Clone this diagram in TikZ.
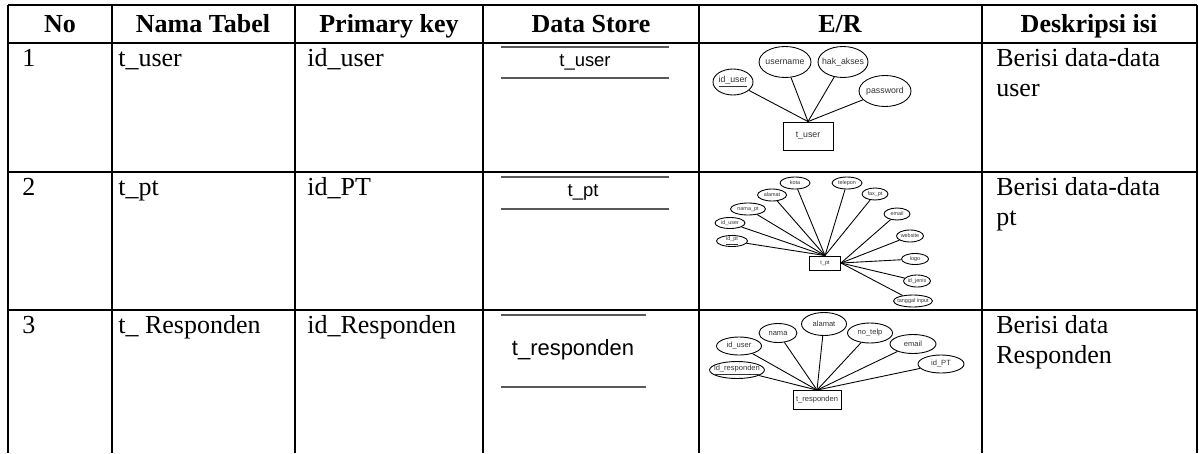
\documentclass[tikz,border=0pt]{standalone}
\usepackage{fontspec}
\setmainfont{Liberation Serif}
\setsansfont{Liberation Sans}
\usetikzlibrary{shapes.geometric}
\tikzset{%
	grid line/.style={line width=0.9pt},
	cell text/.style={
		anchor=base west,
		inner sep=0pt,
		font=\fontsize{14.8}{17.5}\selectfont
	},
	head text/.style={
		anchor=base,
		inner sep=0pt,
		font=\fontsize{14.8}{17.5}\selectfont\bfseries
	},
	store line/.style={draw=black!65, line width=0.7pt},
	store text/.style={inner sep=0pt, font=\sffamily\fontsize{10.5}{12}\selectfont},
	attribute/.style={
		ellipse,
		draw,
		line width=0.5pt,
		inner sep=-2pt,
		text=black!80
	},
	entity/.style={
		rectangle,
		draw,
		line width=0.5pt,
		inner sep=0pt,
		text=black!80
	},
	er link/.style={line width=0.5pt},
	er big/.style={font=\sffamily\fontsize{5}{6}\selectfont},
	er mid/.style={font=\sffamily\fontsize{4.3}{5}\selectfont},
	er small/.style={font=\sffamily\fontsize{3.1}{3.5}\selectfont},
}

\begin{document}
\begin{tikzpicture}[x=0.02cm, y=-0.02cm]
	\useasboundingbox (0,0) rectangle (1199,453);

	% Draw the table grid
	\draw[grid line] (8,5) -- (1197,5);
	\draw[grid line] (8,43) -- (1197,43);
	\draw[grid line] (8,172) -- (1197,172);
	\draw[grid line] (8,310) -- (1197,310);
	\draw[grid line] (8,5) -- (8,453);
	\draw[grid line] (112,5) -- (112,453);
	\draw[grid line] (295,5) -- (295,453);
	\draw[grid line] (483,5) -- (483,453);
	\draw[grid line] (699,5) -- (699,453);
	\draw[grid line] (982,5) -- (982,453);
	\draw[grid line] (1197,5) -- (1197,453);

	% Header
	\node[head text] (hno) at (60,32) {No};
	\node[head text] (hnama) at (203,32) {Nama Tabel};
	\node[head text] (hkey) at (389,32) {Primary key};
	\node[head text] (hstore) at (591,32) {Data Store};
	\node[head text] (her) at (840,32) {E/R};
	\node[head text] (hdesc) at (1089,32) {Deskripsi isi};

	% Row 1
	\node[cell text] (no1) at (22,66) {1};
	\node[cell text] (nama1) at (118,66) {t\_user};
	\node[cell text] (key1) at (307,66) {id\_user};
	\node[cell text] (desc1a) at (996,66) {Berisi data-data};
	\node[cell text] (desc1b) at (996,96) {user};

	% Row 2
	\node[cell text] (no2) at (22,195) {2};
	\node[cell text] (nama2) at (118,195) {t\_pt};
	\node[cell text] (key2) at (307,195) {id\_PT};
	\node[cell text] (desc2a) at (996,195) {Berisi data-data};
	\node[cell text] (desc2b) at (996,225) {pt};

	% Row 3
	\node[cell text] (no3) at (22,333) {3};
	\node[cell text] (nama3) at (118,333) {t\_ Responden};
	\node[cell text] (key3) at (307,333) {id\_Responden};
	\node[cell text] (desc3a) at (996,333) {Berisi data};
	\node[cell text] (desc3b) at (996,363) {Responden};

	% Data stores
	\draw[store line] (501,47) -- (669,47);
	\draw[store line] (501,78) -- (669,78);
	\node[store text] (dsuser) at (585,62) {t\_user};
	\draw[store line] (501,177) -- (669,177);
	\draw[store line] (501,209) -- (669,209);
	\node[store text] (dspt) at (583,192) {t\_pt};
	\draw[store line] (501,315) -- (646,315);
	\draw[store line] (501,387) -- (646,387);
	\node[store text, font=\sffamily\fontsize{12.5}{14}\selectfont] (dsresp) at (573,350) {t\_responden};

	% E/R t_user
	\node[entity, er big, minimum width=1cm, minimum height=0.56cm] (euser) at (808,136) {t\_user};
	\node[attribute, er big, minimum width=0.8cm, minimum height=0.52cm] (uid) at (733,82) {\underline{id\_user}};
	\node[attribute, er big, minimum width=1.04cm, minimum height=0.62cm] (uname) at (785,62) {username};
	\node[attribute, er big, minimum width=1.0cm, minimum height=0.62cm] (uhak) at (843,62) {hak\_akses};
	\node[attribute, er big, minimum width=1.04cm, minimum height=0.62cm] (upass) at (885,91) {password};
	\draw[er link] (uid) -- (euser.north);
	\draw[er link] (uname) -- (euser.north);
	\draw[er link] (uhak) -- (euser.north);
	\draw[er link] (upass) -- (euser.north);

	% E/R t_pt
	\node[entity, er small, minimum width=0.62cm, minimum height=0.28cm] (ept) at (825,263) {t\_pt};
	\node[attribute, er small, minimum width=0.62cm, minimum height=0.22cm] (pid) at (732,241) {\underline{id\_pt}};
	\node[attribute, er small, minimum width=0.6cm, minimum height=0.22cm] (puser) at (730,223) {id\_user};
	\node[attribute, er small, minimum width=0.7cm, minimum height=0.24cm] (pnama) at (748,209) {nama\_pt};
	\node[attribute, er small, minimum width=0.58cm, minimum height=0.24cm] (palamat) at (772,195) {alamat};
	\node[attribute, er small, minimum width=0.6cm, minimum height=0.24cm] (pkota) at (795,183) {kota};
	\node[attribute, er small, minimum width=0.6cm, minimum height=0.24cm] (ptelp) at (847,183) {telepon};
	\node[attribute, er small, minimum width=0.52cm, minimum height=0.24cm] (pfax) at (875,194) {fax\_pt};
	\node[attribute, er small, minimum width=0.52cm, minimum height=0.24cm] (pemail) at (897,214) {email};
	\node[attribute, er small, minimum width=0.54cm, minimum height=0.24cm] (pweb) at (910,236) {website};
	\node[attribute, er small, minimum width=0.54cm, minimum height=0.22cm] (plogo) at (915,259) {logo};
	\node[attribute, er small, minimum width=0.54cm, minimum height=0.24cm] (pjenis) at (917,281) {id\_jenis};
	\node[attribute, er small, minimum width=0.78cm, minimum height=0.24cm] (ptgl) at (913,301) {tanggal input};
	\draw[er link] (pid) -- (ept.north);
	\draw[er link] (puser) -- (ept.north);
	\draw[er link] (pnama) -- (ept.north);
	\draw[er link] (palamat) -- (ept.north);
	\draw[er link] (pkota) -- (ept.north);
	\draw[er link] (ptelp) -- (ept.north);
	\draw[er link] (pfax) -- (ept.north);
	\draw[er link] (pemail) -- (ept.east);
	\draw[er link] (pweb) -- (ept.east);
	\draw[er link] (plogo) -- (ept.east);
	\draw[er link] (pjenis) -- (ept.east);
	\draw[er link] (ptgl) -- (ept.east);

	% E/R t_responden
	\node[entity, er mid, minimum width=0.96cm, minimum height=0.38cm] (eresp) at (817,400) {t\_responden};
	\node[attribute, er mid, minimum width=0.9cm, minimum height=0.34cm] (rid) at (737,370) {\underline{id\_responden}};
	\node[attribute, er mid, minimum width=0.9cm, minimum height=0.36cm] (ruser) at (739,346) {id\_user};
	\node[attribute, er mid, minimum width=0.76cm, minimum height=0.38cm] (rnama) at (778,333) {nama};
	\node[attribute, er mid, minimum width=0.9cm, minimum height=0.46cm] (ralamat) at (824,324) {alamat};
	\node[attribute, er mid, minimum width=0.9cm, minimum height=0.4cm] (rtelp) at (870,333) {no\_telp};
	\node[attribute, er mid, minimum width=0.92cm, minimum height=0.38cm] (remail) at (913,344) {email};
	\node[attribute, er mid, minimum width=0.92cm, minimum height=0.36cm] (rpt) at (941,364) {id\_PT};
	\draw[er link] (rid) -- (eresp.north);
	\draw[er link] (ruser) -- (eresp.north);
	\draw[er link] (rnama) -- (eresp.north);
	\draw[er link] (ralamat) -- (eresp.north);
	\draw[er link] (rtelp) -- (eresp.north);
	\draw[er link] (remail) -- (eresp.north);
	\draw[er link] (rpt) -- (eresp.north);
\end{tikzpicture}
\end{document}
